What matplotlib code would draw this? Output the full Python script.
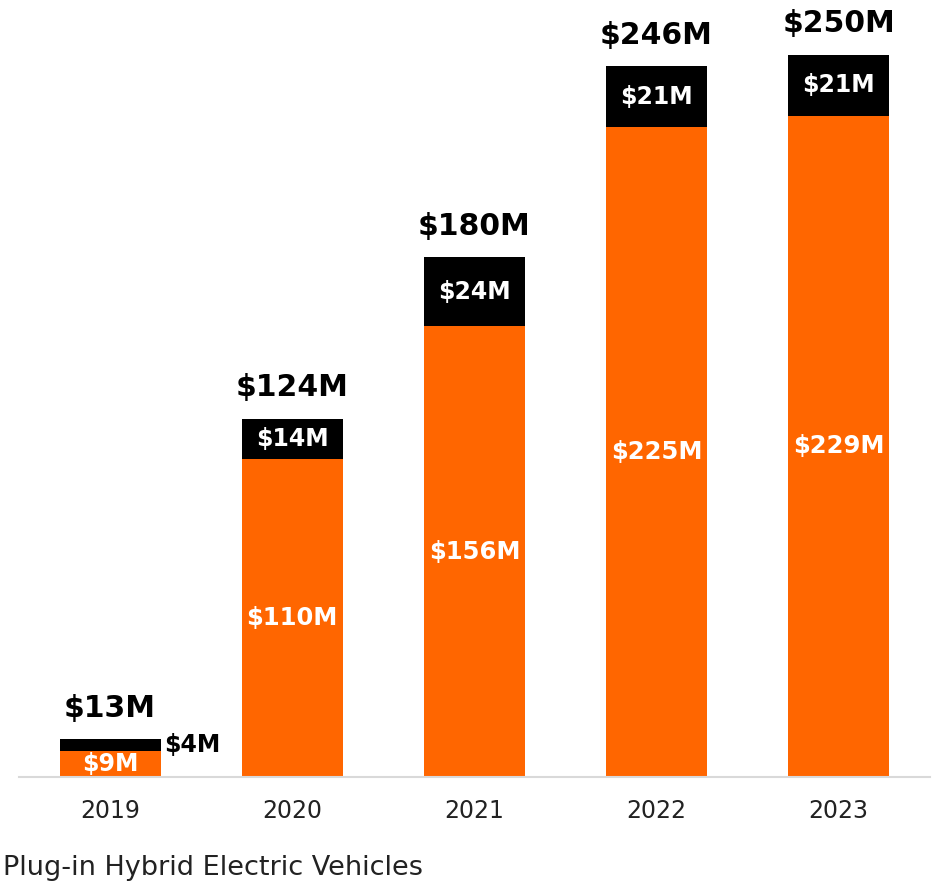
import matplotlib
matplotlib.use("Agg")
import matplotlib.pyplot as plt
import numpy as np

years = ["2019", "2020", "2021", "2022", "2023"]
base = [9, 110, 156, 225, 229]
top = [4, 14, 24, 21, 21]
totals = [13, 124, 180, 246, 250]

orange = "#FF6600"
plt.rcParams["font.family"] = ["DejaVu Sans"]

fig = plt.figure(figsize=(9.37, 8.86), dpi=100)
ax = fig.add_axes([0.0203, 0.123, 0.972, 0.877])

x = np.arange(len(years))
w = 0.555
ax.bar(x, base, width=w, color=orange)
ax.bar(x, top, width=w, bottom=base, color="black")

for i in range(len(years)):
    ax.text(x[i], totals[i] + 10.7, f"${totals[i]}M", ha="center", va="center",
            fontsize=21.5, fontweight="bold", color="black")
    if base[i] > 20:
        ax.text(x[i], base[i] / 2, f"${base[i]}M", ha="center", va="center",
                fontsize=17.5, fontweight="bold", color="white")
        ax.text(x[i], base[i] + top[i] / 2, f"${top[i]}M", ha="center", va="center",
                fontsize=17, fontweight="bold", color="white")
    else:
        # small first bar: inner label low, segment label beside the bar
        ax.text(x[i], base[i] / 2, f"${base[i]}M", ha="center", va="center",
                fontsize=17, fontweight="bold", color="white")
        ax.text(x[i] + w / 2 + 0.02, base[i] + top[i] / 2, f"${top[i]}M",
                ha="left", va="center", fontsize=17, fontweight="bold", color="black")

ax.set_xlim(-0.5, 4.5)
ax.set_ylim(0, 269)
ax.set_xticks(x)
ax.set_xticklabels(years, fontsize=17, color="#222222")
ax.tick_params(axis="x", length=0, pad=16)
ax.set_yticks([])
for s in ["top", "right", "left"]:
    ax.spines[s].set_visible(False)
ax.spines["bottom"].set_color("#d9d9d9")
ax.spines["bottom"].set_linewidth(1.5)

fig.text(0.003, 0.02, "Plug-in Hybrid Electric Vehicles", fontsize=19.5, color="#222222",
         ha="left", va="center")

fig.savefig("out.png", dpi=100)
